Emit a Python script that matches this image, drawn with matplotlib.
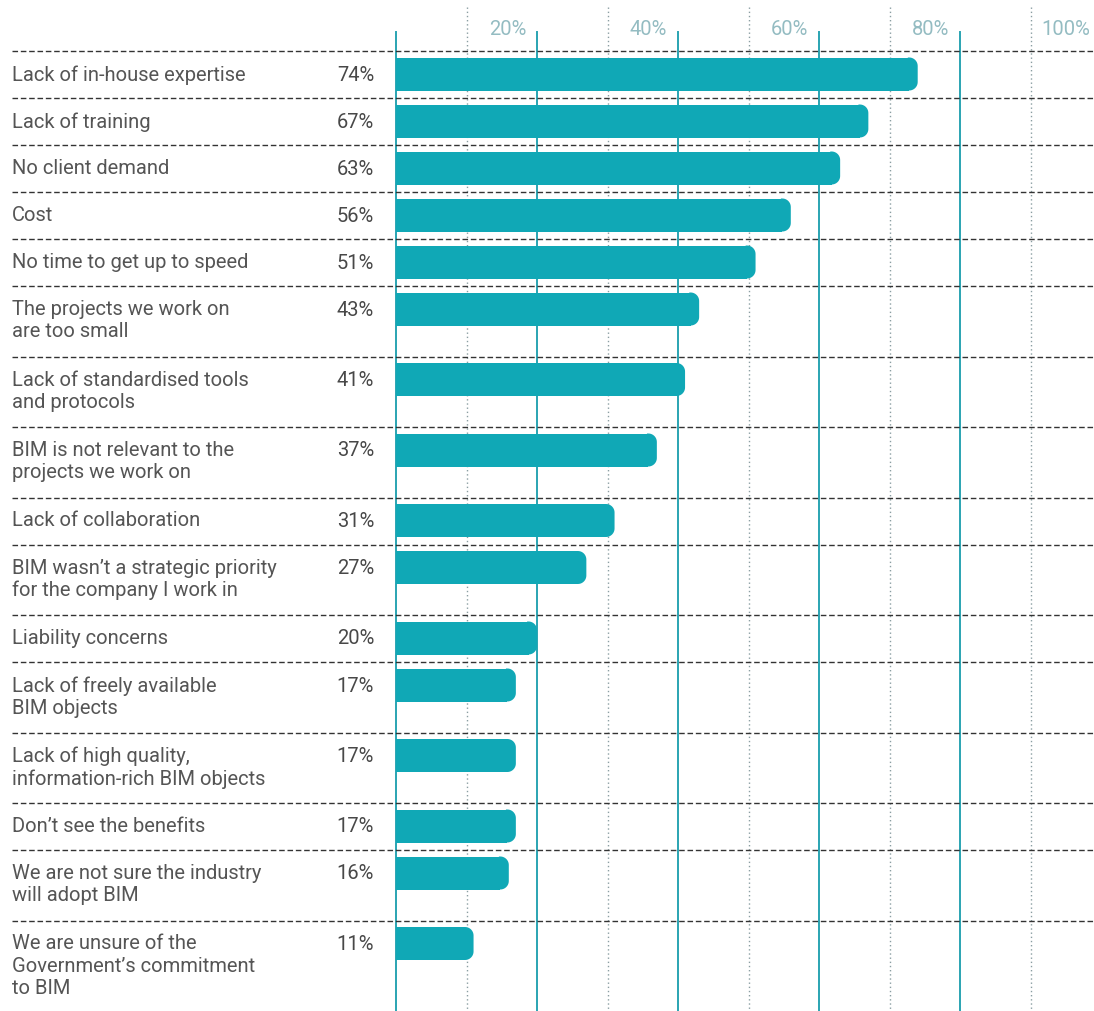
import numpy as np
import matplotlib
matplotlib.use("Agg")
import matplotlib.pyplot as plt
from matplotlib.patches import Polygon

# ---------------------------------------------------------------------------
# data
# ---------------------------------------------------------------------------
labels = [
    "Lack of in-house expertise",
    "Lack of training",
    "No client demand",
    "Cost",
    "No time to get up to speed",
    "The projects we work on\nare too small",
    "Lack of standardised tools\nand protocols",
    "BIM is not relevant to the\nprojects we work on",
    "Lack of collaboration",
    "BIM wasn\u2019t a strategic priority\nfor the company I work in",
    "Liability concerns",
    "Lack of freely available\nBIM objects",
    "Lack of high quality,\ninformation-rich BIM objects",
    "Don\u2019t see the benefits",
    "We are not sure the industry\nwill adopt BIM",
    "We are unsure of the\nGovernment\u2019s commitment\nto BIM",
]
values = [74, 67, 63, 56, 51, 43, 41, 37, 31, 27, 20, 17, 17, 17, 16, 11]
tick_values = [20, 40, 60, 80, 100]
tick_labels = ["20%", "40%", "60%", "80%", "100%"]

# ---------------------------------------------------------------------------
# layout (pixels)
# ---------------------------------------------------------------------------
W, H = 1094, 1012
X0 = 396          # pixel of 0 %
PX = 7.05         # pixels per percent
TOP = 52          # first separator
LINE = 23.5       # row height unit
BAR_H = 33
RAD = 8.5         # corner radius, px

BAR_COLOR = "#10a8b6"
GRID_COLOR = "#2aa4b2"
DOT_COLOR = "#8a9ea2"
TEXT_COLOR = "#555555"
PCT_COLOR = "#484848"
TICK_COLOR = "#94bcc2"
FS = 14.5

plt.rcParams['font.family'] = ['Roboto', 'DejaVu Sans']


def px2x(p):
    return (p - X0) / PX


def round_cap(ax, y, v, h, color):
    # right end of a bar with rounded corners (x in %, y in px)
    rx, ry = RAD / PX, RAD
    t = np.linspace(0, np.pi / 2, 12)
    top = [(v - rx + rx * np.sin(a), y - h / 2 + ry - ry * np.cos(a)) for a in t]
    bot = [(v - rx + rx * np.cos(a), y + h / 2 - ry + ry * np.sin(a)) for a in t]
    pts = [(v - rx - 0.2, y - h / 2)] + top + bot + [(v - rx - 0.2, y + h / 2)]
    ax.add_patch(Polygon(pts, closed=True, facecolor=color,
                         edgecolor='none', zorder=2))


fig = plt.figure(figsize=(W / 100, H / 100), dpi=100)
ax = fig.add_axes([0, 0, 1, 1])
ax.set_xlim(px2x(0), px2x(W))
ax.set_ylim(H, 0)
ax.axis('off')

# row separators
nlines = [lab.count("\n") + 1 for lab in labels]
heights = [47 if n == 1 else LINE * (n + 1) for n in nlines]
seps = TOP + np.concatenate([[0], np.cumsum(heights)[:-1]])

# vertical grid
for v in [0, 20, 40, 60, 80, 100]:
    ax.plot([v, v], [33, H], color=GRID_COLOR, lw=1.4, zorder=1)
for v in [10, 30, 50, 70, 90]:
    ax.plot([v, v], [8, H], color=DOT_COLOR, lw=1.0, ls=(0, (1, 2)), zorder=1)

for v, t in zip(tick_values, tick_labels):
    ax.text(v - px2x(X0 + 11), 29, t, ha='right', va='center',
            fontsize=FS, color=TICK_COLOR)

# separators
for s in seps:
    ax.plot([px2x(12), px2x(W)], [s, s], color="#333333", lw=1.0,
            ls=(0, (4, 2)), zorder=3)

# bars
centers = seps + 6.5 + BAR_H / 2
ax.barh(centers, np.array(values) - RAD / PX, height=BAR_H, left=0,
        color=BAR_COLOR, zorder=2, linewidth=0)
for c, v in zip(centers, values):
    round_cap(ax, c, v, BAR_H, BAR_COLOR)

# texts
for c, lab, v in zip(centers, labels, values):
    ax.text(px2x(12), c - 10, lab, ha='left', va='top', fontsize=FS,
            color=TEXT_COLOR, linespacing=1.22)
    ax.text(px2x(374), c, f"{v}%", ha='right', va='center', fontsize=FS,
            color=PCT_COLOR)

fig.savefig("out.png", dpi=100)
